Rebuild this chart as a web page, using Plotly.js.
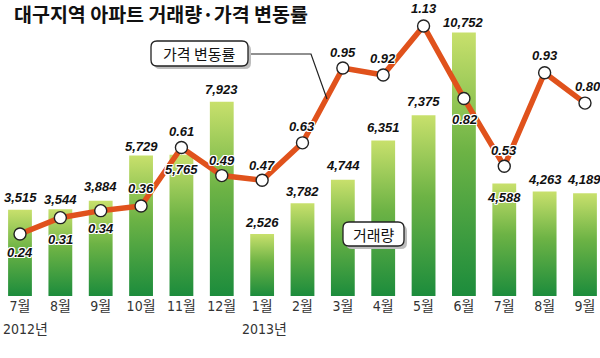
<!DOCTYPE html>
<html><head><meta charset="utf-8">
<script src="https://cdn.plot.ly/plotly-3.0.1.min.js"></script>
<style>html,body{margin:0;padding:0;background:#fff;}#chart{width:600px;height:358px;}</style>
</head><body><div id="chart"></div>
<script>
// ---- data ----
const months = ['7월','8월','9월','10월','11월','12월','1월','2월','3월','4월','5월','6월','7월','8월','9월'];
const years = ['2012년','','','','','','2013년','','','','','','','',''];
const volume = [3515,3544,3884,5729,5765,7923,2526,3782,4744,6351,7375,10752,4588,4263,4189];
const priceChange = [0.24,0.31,0.34,0.36,0.61,0.49,0.47,0.63,0.95,0.92,1.13,0.82,0.53,0.93,0.80];
const titleText = '대구지역 아파트 거래량·가격 변동률';
const lineName = '가격 변동률';
const barName = '거래량';

// ---- style (label offsets in px) ----
const barLabelShift = [12,10,14,9,-15,12,12,12,14,13,14,10,-14,12,14];
const barLabelXShift = [0,0,0,0,0,0,0,0,0,0,0,0,0,0,-1];
const lineLabelShift = [-18,-22,-18,17,16,15,15,16,16,17,17,-21,16,17,17];
const lineLabelXShift = [0,0,0,0,0,0,0,0,0,0,0,1,0,0,3];

const W = 600, PH = 296;
const X = px => px / W;
const Y = py => (PH - py) / PH;
const idx = months.map((m, i) => i);

const numFont = 'Liberation Sans, Arial, sans-serif';
const tickFamily = 'DejaVu Sans Condensed, Noto Sans CJK KR, sans-serif';
const outline = '-1px -1px 0 #fff, 1px -1px 0 #fff, -1px 1px 0 #fff, 1px 1px 0 #fff, 0 1px 0 #fff, 0 -1px 0 #fff, 1px 0 0 #fff, -1px 0 0 #fff';
const labFont = {family: numFont, size: 13, color: '#111', weight: 'bold', style: 'italic', shadow: outline};

const data = [
  {type: 'bar', x: idx, y: volume, marker: {color: '#5aa844'}, hoverinfo: 'none', name: barName},
  {type: 'scatter', mode: 'lines+markers', x: idx, y: priceChange, yaxis: 'y2', name: lineName,
   line: {color: '#e0521c', width: 5.5},
   marker: {size: 12, color: '#fff', line: {color: '#222', width: 1.4}}, hoverinfo: 'none'}
];

function rr(x0, y0, x1, y1, r) {
  const p = (x, y) => X(x) + ',' + Y(y);
  return 'M' + p(x0 + r, y0) + ' L' + p(x1 - r, y0) + ' Q' + p(x1, y0) + ' ' + p(x1, y0 + r) +
    ' L' + p(x1, y1 - r) + ' Q' + p(x1, y1) + ' ' + p(x1 - r, y1) +
    ' L' + p(x0 + r, y1) + ' Q' + p(x0, y1) + ' ' + p(x0, y1 - r) +
    ' L' + p(x0, y0 + r) + ' Q' + p(x0, y0) + ' ' + p(x0 + r, y0) + ' Z';
}
function box(x0, y0, x1, y1) {
  return [
    {type: 'path', xref: 'paper', yref: 'paper', path: rr(x0 + 3, y0 + 3, x1 + 3, y1 + 3, 6), fillcolor: '#bdbdbd', line: {width: 0}},
    {type: 'path', xref: 'paper', yref: 'paper', path: rr(x0, y0, x1, y1, 6), fillcolor: '#fff', line: {color: '#222', width: 1.3}}
  ];
}

const shapes = [
  {type: 'path', xref: 'paper', yref: 'paper', path: 'M' + X(248) + ',' + Y(54) + ' L' + X(311) + ',' + Y(54) + ' L' + X(327) + ',' + Y(99),
   line: {color: '#222', width: 1.2}},
  ...box(151, 41, 248, 66),
  ...box(343, 222, 404, 246)
];

const annotations = [];
volume.forEach((v, i) => annotations.push({
  x: i, y: v, xref: 'x', yref: 'y', text: v.toLocaleString('en-US'), showarrow: false,
  xanchor: 'center', yanchor: 'middle', yshift: barLabelShift[i], xshift: barLabelXShift[i], font: labFont
}));
priceChange.forEach((v, i) => annotations.push({
  x: i, y: v, xref: 'x', yref: 'y2', text: v.toFixed(2), showarrow: false,
  xanchor: 'center', yanchor: 'middle', yshift: lineLabelShift[i], xshift: lineLabelXShift[i], font: labFont
}));
years.forEach((t, i) => { if (t) annotations.push({
  x: i, y: Y(329), xref: 'x', yref: 'paper', text: t, showarrow: false,
  xanchor: i === 0 ? 'left' : 'center', xshift: i === 0 ? -19 : 2, yanchor: 'middle',
  font: {family: tickFamily, size: 14, color: '#333'}
}); });
annotations.push({x: X(12), y: Y(13), xref: 'paper', yref: 'paper', xanchor: 'left', yanchor: 'middle',
  text: titleText, showarrow: false, font: {family: 'Noto Sans CJK KR', size: 19.5, color: '#111', weight: 'bold'}});
annotations.push({x: X(199.5), y: Y(53.5), xref: 'paper', yref: 'paper', xanchor: 'center', yanchor: 'middle',
  text: lineName, showarrow: false, font: {family: 'Noto Sans CJK KR', size: 15, color: '#111'}});
annotations.push({x: X(373.5), y: Y(234), xref: 'paper', yref: 'paper', xanchor: 'center', yanchor: 'middle',
  text: barName, showarrow: false, font: {family: 'Noto Sans CJK KR', size: 15, color: '#111'}});

const layout = {
  width: 600, height: 358,
  margin: {l: 0, r: 0, t: 0, b: 62, pad: 0},
  paper_bgcolor: '#fff', plot_bgcolor: '#fff',
  showlegend: false, bargap: 0.41,
  xaxis: {range: [-0.4955, 14.372], tickvals: idx, ticktext: months, showgrid: false, zeroline: false,
    showline: false, ticks: '', fixedrange: true,
    tickfont: {family: tickFamily, size: 14, color: '#333'}},
  yaxis: {range: [0, 12080], visible: false, fixedrange: true},
  yaxis2: {range: [-0.025, 1.241], overlaying: 'y', visible: false, fixedrange: true},
  shapes: shapes, annotations: annotations
};

Plotly.newPlot('chart', data, layout, {staticPlot: true, displayModeBar: false}).then(gd => {
  const ns = 'http://www.w3.org/2000/svg';
  const svg = gd.querySelector('.main-svg');
  let defs = svg.querySelector('defs');
  if (!defs) { defs = document.createElementNS(ns, 'defs'); svg.insertBefore(defs, svg.firstChild); }
  const lg = document.createElementNS(ns, 'linearGradient');
  lg.setAttribute('id', 'barGrad');
  lg.setAttribute('x1', '0'); lg.setAttribute('y1', '0'); lg.setAttribute('x2', '0'); lg.setAttribute('y2', '1');
  [['0', '#c8e06c'], ['0.45', '#6db345'], ['1', '#1c8c3c']].forEach(([o, c]) => {
    const s = document.createElementNS(ns, 'stop');
    s.setAttribute('offset', o); s.setAttribute('stop-color', c); lg.appendChild(s);
  });
  defs.appendChild(lg);
  gd.querySelectorAll('.barlayer .point path').forEach(p => { p.style.fill = 'url(#barGrad)'; });
});
</script>
</body></html>
